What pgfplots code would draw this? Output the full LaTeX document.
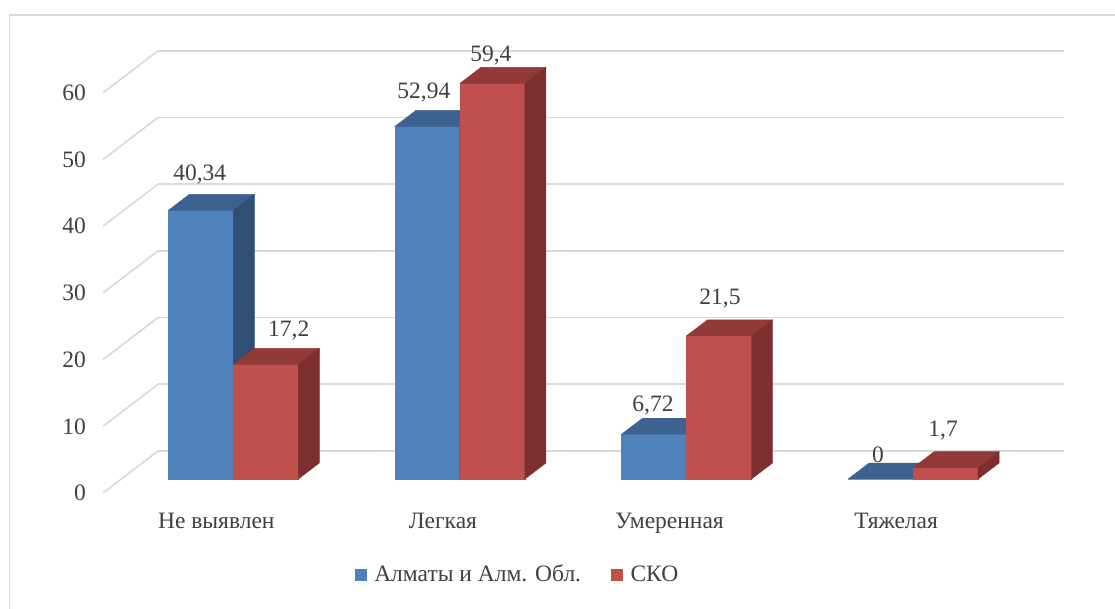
\documentclass[border=0pt]{standalone}
\usepackage{pgfplots}
\usepackage{pgfplotstable}
\pgfplotsset{compat=1.18}
\usepackage{fontspec}
\setmainfont{Liberation Serif}

\definecolor{txt}{RGB}{64,64,64}
\definecolor{gridc}{RGB}{217,217,217}
\definecolor{bfront}{RGB}{79,129,189}
\definecolor{btop}{RGB}{61,98,145}
\definecolor{bside}{RGB}{47,79,117}
\definecolor{rfront}{RGB}{192,80,77}
\definecolor{rtop}{RGB}{146,58,56}
\definecolor{rside}{RGB}{124,47,46}

% values per category; lx / ly shift each value label (pt) from the bar's top front edge
\pgfplotstableread{
x val   lx   ly
0 40.34 -1   30
1 52.94 -3.5 27.5
2 6.72  -1   23
3 0     -2.5 17
}\almaty
\pgfplotstableread{
x val   lx   ly
0 17.2  23   28
1 59.4  -1.5 22
2 21.5  1    31
3 1.7   -2.5 31
}\sko

\pgfdeclareplotmark{nothing}{}

% turn a (possibly floating point) number into a plain fixed point macro
\newcommand\tofixed[2]{%
  \begingroup
    \pgfkeys{/pgf/fpu=true}%
    \pgfmathparse{#2}%
    \pgfmathfloattofixed{\pgfmathresult}%
    \global\let\tofixedresult\pgfmathresult
  \endgroup
  \let#1\tofixedresult
}

% a 3D column: front face, top face, side face and value label
% #1 front colour, #2 top colour, #3 side colour, #4 left edge of the front face
\pgfplotsset{
  box3d/.style n args={4}{
    scatter, only marks, mark=nothing, forget plot,
    visualization depends on={\thisrow{val} \as \barvalraw},
    visualization depends on={\thisrow{lx} \as \labxraw},
    visualization depends on={\thisrow{ly} \as \labyraw},
    scatter/@pre marker code/.code={%
      \tofixed\barval{\barvalraw}%
      \tofixed\labx{\labxraw}%
      \tofixed\laby{\labyraw}%
      \pgfmathsetlengthmacro\barh{\barval*6.66pt}%
      \fill[#1] (#4,0pt) rectangle ++(65pt,-\barh);
      \fill[#2] (#4,0pt) -- ++(21pt,16pt) -- ++(65pt,0pt) -- ++(-21pt,-16pt) -- cycle;
      \fill[#3] (#4,0pt) ++(65pt,0pt) -- ++(21pt,16pt) -- ++(0pt,-\barh) -- ++(-21pt,-16pt) -- cycle;
      \node[anchor=base, inner sep=0pt, text=txt] at ({#4+32.5pt+\labx*1pt},{\laby*1pt})
        {\pgfmathprintnumber[use comma, assume math mode=true]{\barval}};
    },
    scatter/@post marker code/.code={},
  },
}

\begin{document}
\fontsize{23.5}{28}\selectfont\color{txt}%
\begin{tikzpicture}
\useasboundingbox (0,0) rectangle (1115pt,608pt);
\draw[gridc, line width=1.3pt] (9.5pt,-20pt) |- (1140pt,593pt);

% back wall with gridlines, value and category labels
\begin{axis}[
  at={(158pt,157pt)}, anchor=south west,
  x=226.6pt, y=6.67pt,
  xmin=0, xmax=4, ymin=0, ymax=60,
  enlargelimits=false, clip=false,
  axis line style={draw=none},
  major tick length=0pt, tick style={draw=none},
  ytick={0,10,...,60},
  ymajorgrids, grid style={gridc, line width=1.6pt},
  xtick={0.5,1.5,2.5,3.5},
  xticklabels={Не выявлен, Легкая, Умеренная, Тяжелая},
  xticklabel style={anchor=base, inner sep=0pt, xshift=-55pt, yshift=-77pt},
  yticklabel style={anchor=east, inner sep=0pt, xshift=-72pt, yshift=-42pt},
  /pgf/number format/assume math mode=true,
  tick label style={text=txt},
]
\pgfplotsinvokeforeach{0,10,20,30,40,50,60}{
  \draw[gridc, line width=1.6pt] (axis cs:0,#1) -- ++(-55pt,-42pt);
}
\end{axis}

% columns
\begin{axis}[
  at={(120pt,129pt)}, anchor=south west,
  x=226.6pt, y=6.66pt,
  xmin=-0.5, xmax=3.5, ymin=0, ymax=60,
  enlargelimits=false, clip=false,
  hide axis,
  legend style={draw=none, fill=none, text=txt, legend columns=2,
    at={(0.4386,-0.2402)}, anchor=center, inner sep=0pt,
    /tikz/every odd column/.append style={column sep=6pt},
    /tikz/every even column/.append style={column sep=28pt}},
  legend cell align=left,
]
\addplot[box3d={bfront}{btop}{bside}{-65pt}] table[x=x, y=val] {\almaty};
\addplot[box3d={rfront}{rtop}{rside}{0pt}] table[x=x, y=val] {\sko};
\addlegendimage{legend image code/.code={\fill[bfront] (0pt,-5.5pt) rectangle (11pt,5.5pt);}}
\addlegendentry{Алматы и Алм. Обл.}
\addlegendimage{legend image code/.code={\fill[rfront] (0pt,-5.5pt) rectangle (11pt,5.5pt);}}
\addlegendentry{СКО}
\end{axis}
\end{tikzpicture}
\end{document}
